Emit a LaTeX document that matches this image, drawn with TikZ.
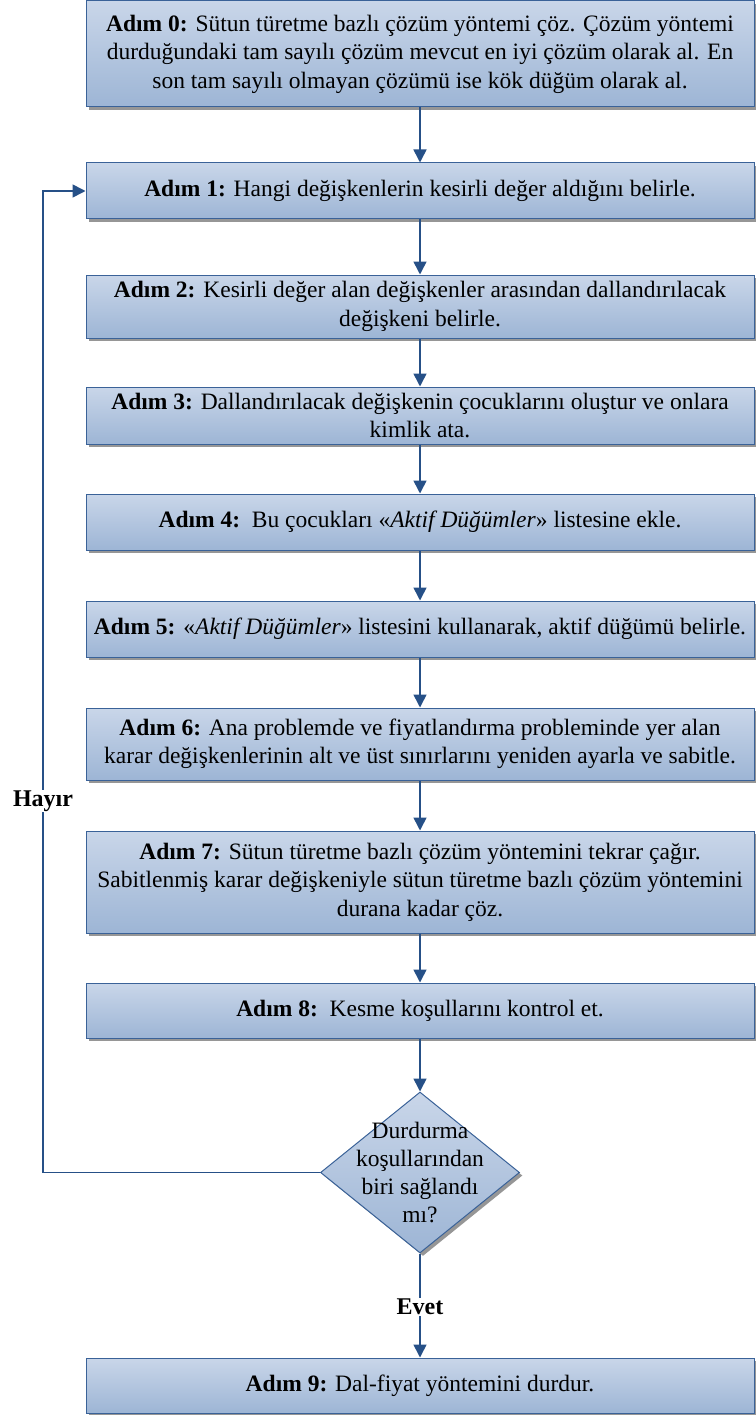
\documentclass[tikz,border=0pt]{standalone}
\usepackage{fontspec}
\setmainfont{Liberation Serif}
\usetikzlibrary{arrows.meta,shapes.geometric,shadows}
\definecolor{boxtop}{RGB}{201,214,233}
\definecolor{boxbot}{RGB}{157,181,213}
\definecolor{boxline}{RGB}{58,98,152}
\definecolor{arrline}{RGB}{38,80,135}
\definecolor{shadowgray}{RGB}{150,150,150}
\tikzset{
  stepbox/.style={rectangle, draw=boxline, line width=1pt, top color=boxtop, bottom color=boxbot,
    minimum width=668pt, inner sep=0pt, align=center,
    font=\fontsize{23.5}{28.5}\selectfont,
    drop shadow={shadow xshift=2.5pt, shadow yshift=-3pt, fill=shadowgray, opacity=1}},
  decision/.style={diamond, draw=boxline, line width=1pt, top color=boxtop, bottom color=boxbot,
    minimum width=199pt, minimum height=161pt, inner sep=0pt,
    drop shadow={shadow xshift=3pt, shadow yshift=-3pt, fill=shadowgray, opacity=1}},
  arr/.style={draw=arrline, line width=1.6pt, -{Triangle[length=13pt,width=13pt]}},
  lbl/.style={font=\fontsize{24}{28}\selectfont\bfseries, fill=white, inner sep=1pt}
}
\begin{document}
\begin{tikzpicture}[x=1pt,y=-1pt]
\useasboundingbox (0,0) rectangle (755,1415);
\node[stepbox, minimum height=106pt] (b0) at (420,54) {\textbf{Adım 0:} Sütun türetme bazlı çözüm yöntemi çöz. Çözüm yöntemi\\ durduğundaki tam sayılı çözüm mevcut en iyi çözüm olarak al. En\\ son tam sayılı olmayan çözümü ise kök düğüm olarak al.};
\node[stepbox, minimum height=56pt] (b1) at (420,191) {\textbf{Adım 1:} Hangi değişkenlerin kesirli değer aldığını belirle.};
\node[stepbox, minimum height=63pt] (b2) at (420,306.5) {\textbf{Adım 2:} Kesirli değer alan değişkenler arasından dallandırılacak\\ değişkeni belirle.};
\node[stepbox, minimum height=57pt] (b3) at (420,415.5) {\textbf{Adım 3:} Dallandırılacak değişkenin çocuklarını oluştur ve onlara\\ kimlik ata.};
\node[stepbox, minimum height=56pt] (b4) at (420,522) {\textbf{Adım 4:}\ \ Bu çocukları «\textit{Aktif Düğümler}» listesine ekle.};
\node[stepbox, minimum height=56pt] (b5) at (420,629) {\textbf{Adım 5:} «\textit{Aktif Düğümler}» listesini kullanarak, aktif düğümü belirle.};
\node[stepbox, minimum height=72pt] (b6) at (420,744) {\textbf{Adım 6:} Ana problemde ve fiyatlandırma probleminde yer alan\\ karar değişkenlerinin alt ve üst sınırlarını yeniden ayarla ve sabitle.};
\node[stepbox, minimum height=102pt] (b7) at (420,882) {\textbf{Adım 7:} Sütun türetme bazlı çözüm yöntemini tekrar çağır.\\ Sabitlenmiş karar değişkeniyle sütun türetme bazlı çözüm yöntemini\\ durana kadar çöz.};
\node[stepbox, minimum height=55pt] (b8) at (420,1010.5) {\textbf{Adım 8:}\ \ Kesme koşullarını kontrol et.};
\node[decision, label={[align=center, font=\fontsize{23.5}{27.7}\selectfont]center:Durdurma\\ koşullarından\\ biri sağlandı\\ mı?}] (d) at (420,1172.5) {};
\node[stepbox, minimum height=55pt] (b9) at (420,1385.5) {\textbf{Adım 9:} Dal-fiyat yöntemini durdur.};
\coordinate (loop) at (43,191);
\draw[arr] (b0) -- (b1);
\draw[arr] (b1) -- (b2);
\draw[arr] (b2) -- (b3);
\draw[arr] (b3) -- (b4);
\draw[arr] (b4) -- (b5);
\draw[arr] (b5) -- (b6);
\draw[arr] (b6) -- (b7);
\draw[arr] (b7) -- (b8);
\draw[arr] (b8) -- (d);
\draw[arr] (d.south) -- node[lbl, pos=0.51] (evet) {Evet} (b9.north);
\draw[arr] (d.west) -| (loop) -- (b1.west);
\node[lbl] (hayir) at (43,801) {Hayır};
\end{tikzpicture}
\end{document}
